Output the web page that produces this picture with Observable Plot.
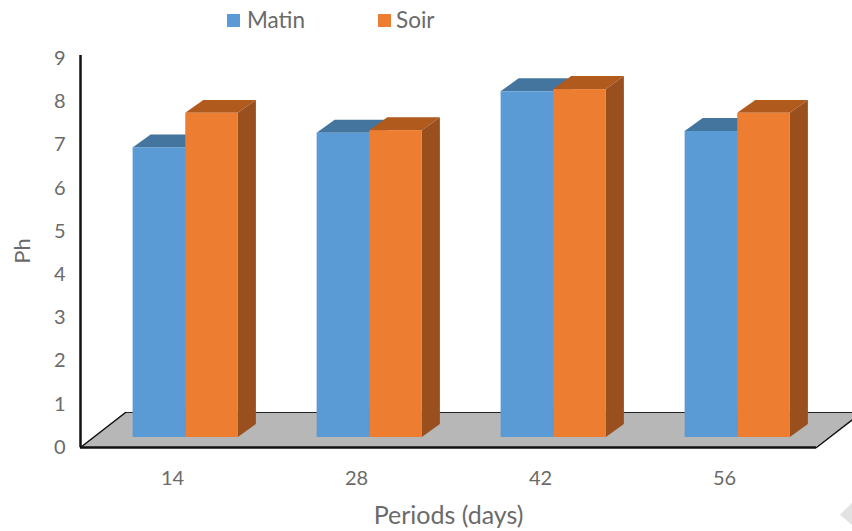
<!DOCTYPE html>
<html><head><meta charset="utf-8">
<script src="https://cdn.jsdelivr.net/npm/d3@7"></script>
<script src="https://cdn.jsdelivr.net/npm/@observablehq/plot@0.6"></script>
<style>
html,body{margin:0;padding:0;background:#fff;overflow:hidden;width:852px;height:531px}
#legend{position:relative;height:40px;font:22.5px Lato,sans-serif;color:#6a6a6a}
#legend i{position:absolute;top:14px;width:13px;height:13px}
#legend span{position:absolute;top:6px;line-height:28px}
svg{display:block}
</style></head><body>
<div id="legend">
<i style="left:227px;background:#5b9bd5"></i><span style="left:247px">Matin</span>
<i style="left:378px;background:#ed7d31"></i><span style="left:396px">Soir</span>
</div>
<div id="chart"></div>
<script>
const periods = ["14","28","42","56"];
const matin = [6.7, 7.04, 8.0, 7.08];
const soir  = [7.5, 7.1, 8.05, 7.5];

// projection of the pseudo-3D box, in scale units
const barLeft = 0.286, barW = 0.286, lift = 0.231;
const depthX = 0.098, depthY = 0.30;
const floorX = 0.245, floorY = 0.81;

const box = (vals, start) => vals.flatMap((v, i) => {
  const l = i + barLeft + start * barW, r = l + barW, b = lift, t = lift + v;
  return [{i, l, r, b, t}];
});
const m = box(matin, 0), s = box(soir, 1);
const topFace = d => d.flatMap(o => [
  {i:o.i, y:o.t, x1:o.l, x2:o.r},
  {i:o.i, y:o.t+depthY, x1:o.l+depthX, x2:o.r+depthX}]);
const sideFace = d => d.flatMap(o => [
  {i:o.i, x:o.r, y1:o.b, y2:o.t},
  {i:o.i, x:o.r+depthX, y1:o.b+depthY, y2:o.t+depthY}]);
const front = (d, fill) => Plot.rect(d, {x1:"l", x2:"r", y1:"b", y2:"t", fill});
const top3d = (d, fill) => Plot.areaX(topFace(d), {y:"y", x1:"x1", x2:"x2", z:"i", fill});
const side3d = (d, fill) => Plot.areaY(sideFace(d), {x:"x", y1:"y1", y2:"y2", z:"i", fill});

const floor = [{y:0,x1:0,x2:4},{y:floorY,x1:floorX,x2:4+floorX}];
const corner = [{x:4.13,y1:-1.57,y2:-1.57},{x:4.24,y1:-1.96,y2:-1.1}];

const plot = Plot.plot({
  width:852, height:491,
  marginLeft:80, marginRight:36, marginTop:18, marginBottom:84,
  style:{fontFamily:"Lato,sans-serif", color:"#6a6a6a", background:"transparent"},
  x:{domain:[0,4]},
  y:{domain:[0,9]},
  marks:[
    Plot.areaY(corner,{x:"x",y1:"y1",y2:"y2",fill:"#e2e2e2"}),
    Plot.areaX(floor,{y:"y",x1:"x1",x2:"x2",fill:"#b7b7b7"}),
    Plot.ruleY([floorY],{x1:floorX,x2:4+floorX,stroke:"#222",strokeWidth:1}),
    Plot.line([[0,0],[floorX,floorY]],{stroke:"#111",strokeWidth:1.5}),
    Plot.line([[4,0],[4+floorX,floorY]],{stroke:"#111",strokeWidth:1.5}),
    Plot.ruleX([0],{y1:0,y2:9.07,stroke:"#111",strokeWidth:2.5}),
    Plot.ruleY([0],{x1:0,x2:4,stroke:"#111",strokeWidth:2.5}),
    top3d(m,"#44759f"),
    side3d(m,"#3f6f99"),
    front(m,"#5b9bd5"),
    top3d(s,"#b15a1e"),
    side3d(s,"#9a501e"),
    front(s,"#ed7d31"),
    Plot.axisY({ticks:d3.range(0,10),tickSize:0,tickPadding:15,fontSize:20,label:null}),
    Plot.axisX({ticks:periods.map((_,i)=>i+0.5),tickFormat:v=>periods[Math.floor(v)],
      tickSize:0,tickPadding:23,fontSize:20,label:null}),
    Plot.text(["Ph"],{frameAnchor:"left",rotate:-90,textAnchor:"middle",dx:-58,dy:-2,fontSize:22,fill:"#6a6a6a"}),
    Plot.text(["Periods (days)"],{frameAnchor:"bottom",dy:76,fontSize:25,fill:"#6a6a6a"})
  ]
});
document.getElementById("chart").append(plot);
</script>
</body></html>
